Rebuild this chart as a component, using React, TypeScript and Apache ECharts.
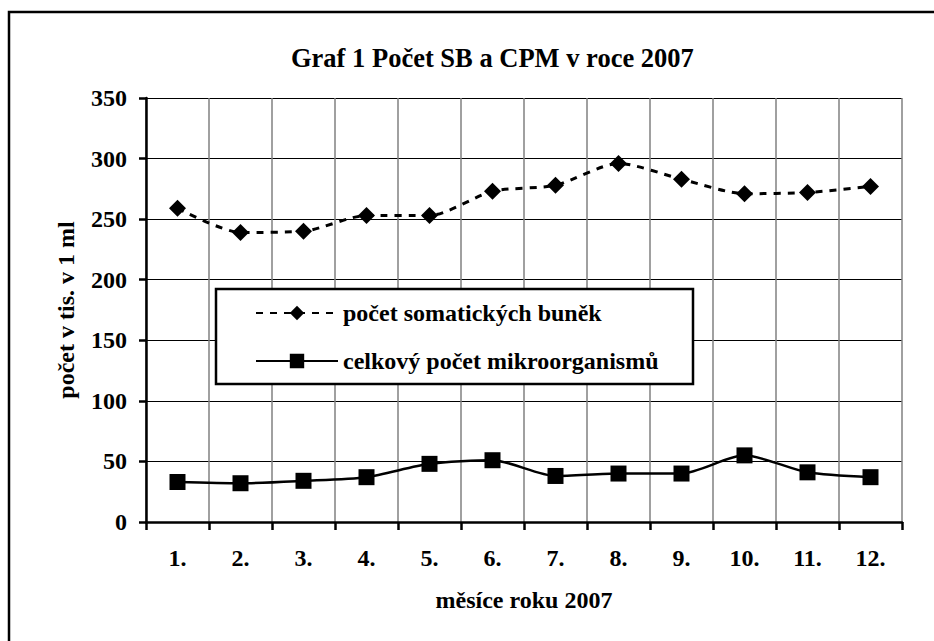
import React, { useEffect, useRef } from "react";
import * as echarts from "echarts";

const months = ["1.", "2.", "3.", "4.", "5.", "6.", "7.", "8.", "9.", "10.", "11.", "12."];
const somaticCells = [259, 239, 240, 253, 253, 273, 278, 296, 283, 271, 272, 277];
const microorganisms = [33, 32, 34, 37, 48, 51, 38, 40, 40, 55, 41, 37];
const seriesNames = ["počet somatických buněk", "celkový počet mikroorganismů"];
const titleText = "Graf 1 Počet SB a CPM v roce 2007";
const xName = "měsíce roku 2007";
const yName = "počet v tis. v 1 ml";

const FONT = "Liberation Serif";

export default function App() {
  const ref = useRef<HTMLDivElement>(null);
  useEffect(() => {
    document.body.style.margin = "0";
    const chart = echarts.init(ref.current!, null, { renderer: "svg" });
    chart.setOption({
      animation: false,
      backgroundColor: "#ffffff",
      title: {
        text: titleText,
        left: 291,
        top: 44,
        padding: 0,
        textStyle: { fontFamily: FONT, fontWeight: "bold", fontSize: 26.5, color: "#000" },
      },
      graphic: [
        {
          type: "rect",
          z: 0,
          shape: { x: 9, y: 12, width: 960, height: 680 },
          style: { fill: "none", stroke: "#000", lineWidth: 2.5 },
        },
        {
          type: "rect",
          z: 3,
          shape: { x: 216, y: 289, width: 477, height: 95 },
          style: { fill: "#fff", stroke: "#000", lineWidth: 2.5 },
        },
      ],
      legend: {
        orient: "vertical",
        left: 255,
        top: 301,
        padding: 0,
        itemWidth: 82,
        itemHeight: 18,
        itemGap: 24,
        z: 5,
        textStyle: { fontFamily: FONT, fontWeight: "bold", fontSize: 24, lineHeight: 24, color: "#000" },
        data: seriesNames,
      },
      grid: { left: 146, top: 98, right: 32, bottom: 119, containLabel: false },
      xAxis: {
        type: "category",
        data: months,
        boundaryGap: true,
        name: xName,
        nameLocation: "middle",
        nameGap: 66,
        nameTextStyle: { fontFamily: FONT, fontWeight: "bold", fontSize: 24, color: "#000" },
        axisLine: { lineStyle: { color: "#000", width: 2.5 } },
        axisTick: { show: true, alignWithLabel: false, length: 8, lineStyle: { color: "#000", width: 2.5 } },
        axisLabel: { margin: 24, fontFamily: FONT, fontWeight: "bold", fontSize: 24, color: "#000" },
        splitLine: { show: true, interval: 0, lineStyle: { color: "#808080", width: 1.5 } },
      },
      yAxis: {
        type: "value",
        min: 0,
        max: 350,
        interval: 50,
        name: yName,
        nameLocation: "middle",
        nameGap: 68,
        nameTextStyle: { fontFamily: FONT, fontWeight: "bold", fontSize: 24, color: "#000" },
        axisLine: { show: true, lineStyle: { color: "#000", width: 2.5 } },
        axisTick: { show: true, length: 7, lineStyle: { color: "#000", width: 2.5 } },
        axisLabel: { margin: 19, fontFamily: FONT, fontWeight: "bold", fontSize: 24, color: "#000" },
        splitLine: { show: true, lineStyle: { color: "#000", width: 1 } },
      },
      series: [
        {
          name: seriesNames[0],
          type: "line",
          data: somaticCells,
          smooth: 0.25,
          symbol: "diamond",
          symbolSize: 17,
          itemStyle: { color: "#000" },
          lineStyle: { color: "#000", width: 3, type: [7, 7] },
        },
        {
          name: seriesNames[1],
          type: "line",
          data: microorganisms,
          smooth: 0.25,
          symbol: "rect",
          symbolSize: 16,
          itemStyle: { color: "#000" },
          lineStyle: { color: "#000", width: 2.5 },
        },
      ],
    });
    return () => chart.dispose();
  }, []);
  return (
    <div
      ref={ref}
      style={{ position: "absolute", left: 0, top: 0, width: 934, height: 641 }}
    />
  );
}
